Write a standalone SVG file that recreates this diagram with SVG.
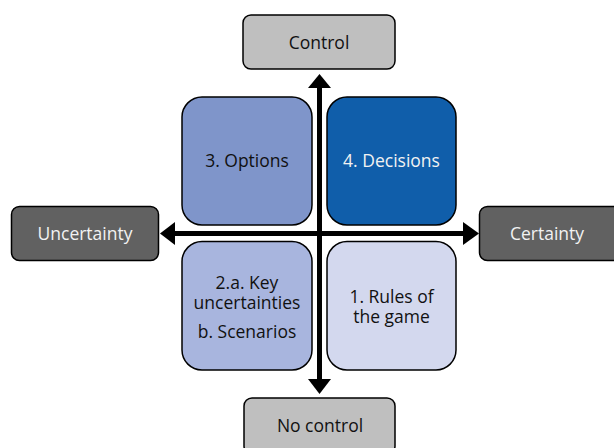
<svg xmlns="http://www.w3.org/2000/svg" width="614" height="448" viewBox="0 0 614 448">
<defs>
<style>
.box{stroke:#000;stroke-width:1.5}
.t{font-family:"Open Sans","Noto Sans",sans-serif;font-size:17.5px;text-anchor:middle}
.dk{fill:#111}
.lt{fill:#f2f2f2}
.ax{stroke:#000;stroke-width:5;fill:none}
.ah{fill:#000}
</style>
</defs>
<rect width="614" height="448" fill="#fff"/>
<g id="connectors">
<line class="ax" x1="319.5" y1="86" x2="319.5" y2="382"/>
<polygon class="ah" points="319.5,74 331,88 308,88"/>
<polygon class="ah" points="319.5,394 331,379 308,379"/>
<line class="ax" x1="173" y1="233.5" x2="466" y2="233.5"/>
<polygon class="ah" points="160,233.5 175,222 175,245"/>
<polygon class="ah" points="479,233.5 463,222 463,245"/>
</g>
<g id="control">
<rect class="box" x="243" y="15" width="152" height="54" rx="8" fill="#bfbfbf"/>
<text class="t dk" x="319" y="48.5">Control</text>
</g>
<g id="nocontrol">
<rect class="box" x="244" y="398" width="151" height="56" rx="8" fill="#bfbfbf"/>
<text class="t dk" x="320" y="431.5">No control</text>
</g>
<g id="uncertainty">
<rect class="box" x="11.5" y="206.5" width="147" height="54" rx="8" fill="#616161"/>
<text class="t lt" x="85" y="239.5">Uncertainty</text>
</g>
<g id="certainty">
<rect class="box" x="479.5" y="206.5" width="147" height="54" rx="8" fill="#616161"/>
<text class="t lt" x="547" y="239.5">Certainty</text>
</g>
<g id="options">
<rect class="box" x="182" y="97" width="130" height="128" rx="20" fill="#7f95ca"/>
<text class="t dk" x="247" y="167">3. Options</text>
</g>
<g id="decisions">
<rect class="box" x="327" y="97" width="129" height="128" rx="20" fill="#105eaa"/>
<text class="t lt" x="391.5" y="167">4. Decisions</text>
</g>
<g id="keyuncertainties">
<rect class="box" x="182" y="241.5" width="130" height="128.5" rx="20" fill="#a8b5de"/>
<text class="t dk" x="247" y="288.5">2.a. Key</text>
<text class="t dk" x="247" y="308.5">uncertainties</text>
<text class="t dk" x="247" y="337.5">b. Scenarios</text>
</g>
<g id="rules">
<rect class="box" x="327" y="241.5" width="129" height="128.5" rx="20" fill="#d3d8ee"/>
<text class="t dk" x="391.5" y="303">1. Rules of</text>
<text class="t dk" x="391.5" y="323">the game</text>
</g>
</svg>
